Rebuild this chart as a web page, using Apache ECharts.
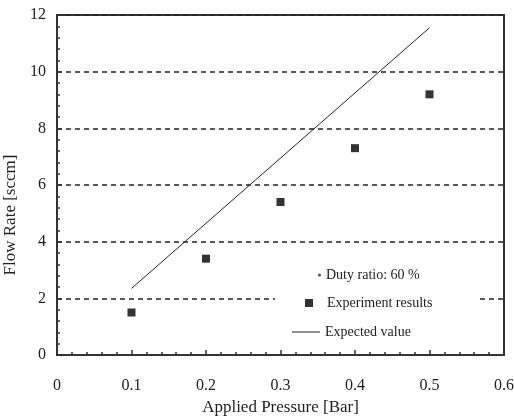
<!DOCTYPE html>
<html>
<head>
<meta charset="utf-8">
<script src="https://cdn.jsdelivr.net/npm/echarts@6/dist/echarts.min.js"></script>
<style>
    html, body { margin: 0; padding: 0; background: #fff; }
    #main { width: 514px; height: 417px; }
</style>
</head>
<body>
<div id="main"></div>
<script>
// 数据
var pressure = [0.1, 0.2, 0.3, 0.4, 0.5];
var measured = [1.5, 3.4, 5.4, 7.3, 9.2];
var expectedX = [0.1, 0.5];
var expectedY = [2.35, 11.55];
var xTicks = ['0', '0.1', '0.2', '0.3', '0.4', '0.5', '0.6'];

var font = 'Liberation Serif';
var ink = '#222';

var myChart = echarts.init(document.getElementById('main'));

function chart() {
    var pts = pressure.map(function (p, i) { return [p, measured[i]]; });
    var line = expectedX.map(function (p, i) { return [p, expectedY[i]]; });

    var option = {
        animation: false,
        grid: {
            left: 57, right: 10, top: 15, bottom: 62,
            outerBoundsMode: 'none',
            show: true,
            borderColor: '#333',
            borderWidth: 2
        },
        // 图例，三个分开摆放；中间那个白底遮住虚线
        legend: [{
            left: 318, top: 268, padding: 0,
            data: [{ name: 'Duty ratio: 60 %', icon: 'circle' }],
            itemWidth: 3, itemHeight: 3,
            textStyle: { fontFamily: font, fontSize: 14, color: ink }
        }, {
            left: 275, top: 292, padding: [4, 45, 4, 30],
            backgroundColor: '#fff',
            data: [{ name: 'Experiment results', icon: 'rect' }],
            itemWidth: 8, itemHeight: 8,
            textStyle: { fontFamily: font, fontSize: 14, color: ink, padding: [0, 0, 0, 9] }
        }, {
            left: 292, top: 325, padding: 0,
            data: [{ name: 'Expected value', icon: 'rect' }],
            itemWidth: 28, itemHeight: 1,
            textStyle: { fontFamily: font, fontSize: 14, color: ink }
        }],
        xAxis: {
            type: 'value',
            min: 0, max: 0.6, interval: 0.1,
            name: 'Applied Pressure [Bar]',
            nameLocation: 'middle',
            nameGap: 43,
            nameTextStyle: { fontFamily: font, fontSize: 17, color: ink },
            axisLine: { lineStyle: { color: '#333', width: 2 } },
            axisTick: { inside: true, length: 5, lineStyle: { color: '#333', width: 1.5 } },
            minorTick: { show: true, splitNumber: 5, length: 3, lineStyle: { color: '#333', width: 1.5 } },
            axisLabel: {
                margin: 23, fontFamily: font, fontSize: 16, color: ink,
                formatter: function (v) { return xTicks[Math.round(v * 10)]; }
            },
            splitLine: { show: false }
        },
        yAxis: {
            type: 'value',
            min: 0, max: 12, interval: 2,
            name: 'Flow Rate [sccm]',
            nameLocation: 'middle',
            nameGap: 29,
            nameTextStyle: { fontFamily: font, fontSize: 17, color: ink, padding: [0, 60, 0, 0] },
            axisLine: { lineStyle: { color: '#333', width: 2 } },
            axisTick: { inside: true, length: 5, lineStyle: { color: '#333', width: 1.5 } },
            minorTick: { show: true, splitNumber: 5, length: 3, lineStyle: { color: '#333', width: 1.5 } },
            axisLabel: { margin: 11, fontFamily: font, fontSize: 16, color: ink },
            splitLine: { show: true, lineStyle: { color: '#222', width: 1.5, type: [5, 4] } }
        },
        series: [{
            name: 'Duty ratio: 60 %',
            type: 'scatter',
            data: [],
            itemStyle: { color: '#222' }
        }, {
            name: 'Experiment results',
            type: 'scatter',
            data: pts,
            symbol: 'rect',
            symbolSize: 8,
            itemStyle: { color: '#000' }
        }, {
            name: 'Expected value',
            type: 'line',
            data: line,
            showSymbol: false,
            symbol: 'none',
            lineStyle: { color: '#222', width: 1 },
            itemStyle: { color: '#222' }
        }]
    };

    myChart.setOption(option);
}
chart();
</script>
</body>
</html>
